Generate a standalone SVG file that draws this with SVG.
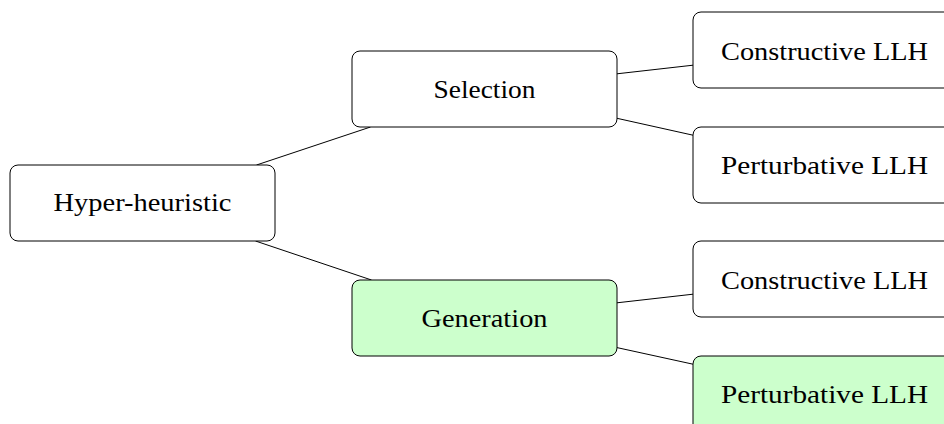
<svg xmlns="http://www.w3.org/2000/svg" width="944" height="424" viewBox="0 0 944 424">
<style>
.box{fill:#ffffff;stroke:#000;stroke-width:1}
.green{fill:#ccffcc}
.lbl{font-family:"Liberation Serif","DejaVu Serif",serif;font-size:26px;fill:#000;text-anchor:middle}
.edge{stroke:#000;stroke-width:1;fill:none}
</style>
<rect width="944" height="424" fill="#fff"/>
<g id="connectors">
<line class="edge" x1="256.5" y1="165" x2="370.5" y2="127"/>
<line class="edge" x1="255.5" y1="241" x2="371.5" y2="280"/>
<line class="edge" x1="617" y1="73.8" x2="693" y2="65.2"/>
<line class="edge" x1="617" y1="118.3" x2="693" y2="135.2"/>
<line class="edge" x1="617" y1="302.8" x2="693" y2="294.2"/>
<line class="edge" x1="617" y1="347.6" x2="693" y2="364.2"/>
</g>
<g id="hyper">
<rect class="box" x="10" y="165" width="265" height="76" rx="8"/>
<text class="lbl" x="142.5" y="211" textLength="178" lengthAdjust="spacingAndGlyphs">Hyper-heuristic</text>
</g>
<g id="selection">
<rect class="box" x="352" y="51" width="265" height="76" rx="8"/>
<text class="lbl" x="484.5" y="98" textLength="102" lengthAdjust="spacingAndGlyphs">Selection</text>
</g>
<g id="generation">
<rect class="box green" x="352" y="280" width="265" height="76" rx="8"/>
<text class="lbl" x="484.5" y="327" textLength="126" lengthAdjust="spacingAndGlyphs">Generation</text>
</g>
<g id="sel-constructive">
<rect class="box" x="693" y="12" width="265" height="76" rx="8"/>
<text class="lbl" x="824.5" y="60" textLength="207" lengthAdjust="spacingAndGlyphs">Constructive LLH</text>
</g>
<g id="sel-perturbative">
<rect class="box" x="693" y="127" width="265" height="76" rx="8"/>
<text class="lbl" x="824.5" y="173.5" textLength="207" lengthAdjust="spacingAndGlyphs">Perturbative LLH</text>
</g>
<g id="gen-constructive">
<rect class="box" x="693" y="241" width="265" height="76" rx="8"/>
<text class="lbl" x="824.5" y="289" textLength="207" lengthAdjust="spacingAndGlyphs">Constructive LLH</text>
</g>
<g id="gen-perturbative">
<rect class="box green" x="693" y="356" width="265" height="76" rx="8"/>
<text class="lbl" x="824.5" y="403" textLength="207" lengthAdjust="spacingAndGlyphs">Perturbative LLH</text>
</g>
</svg>
